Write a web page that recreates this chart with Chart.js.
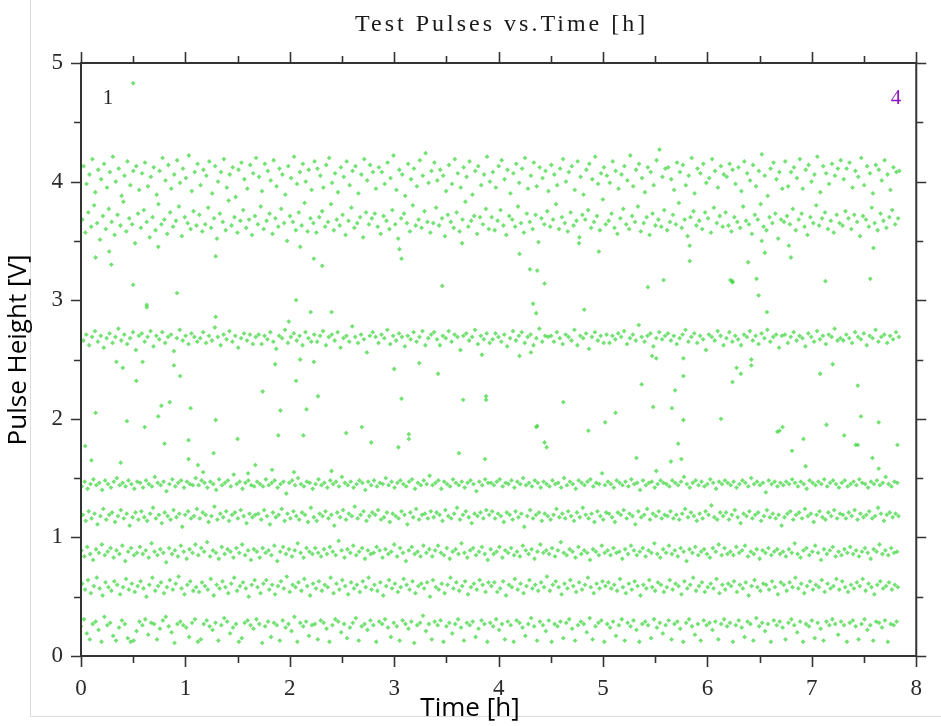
<!DOCTYPE html>
<html>
<head>
<meta charset="utf-8">
<title>Test Pulses vs.Time [h]</title>
<script src="https://cdn.jsdelivr.net/npm/chart.js@4/dist/chart.umd.min.js"></script>
<style>
  html, body { margin: 0; padding: 0; background: #ffffff; }
  #wrap { width: 941px; height: 726px; }
</style>
</head>
<body>
<div id="wrap"><canvas id="c" width="941" height="726"></canvas></div>
<script>
// Test-pulse readout: one reading per amplitude step every SAMPLE_STEP_H hours.
const SAMPLE_STEP_H = 0.028;
// Time of the first reading of each amplitude step [h] (steps are interleaved).
const firstReadingH = [0.000, 0.011, 0.004, 0.018, 0.007, 0.022, 0.014, 0.025];

// Pulse heights [V] per amplitude step, in time order.
const step025 = [
  0.25,0.31,0.19,0.14,0.27,0.29,0.22,0.12,0.33,0.26,0.28,0.17,0.13,0.24,0.30,0.27,0.15,0.12,0.13,0.21,
  0.29,0.26,0.31,0.18,0.28,0.27,0.14,0.23,0.30,0.33,0.25,0.20,0.11,0.27,0.29,0.26,0.24,0.16,0.28,0.31,
  0.12,0.14,0.27,0.30,0.25,0.22,0.28,0.13,0.26,0.32,0.29,0.19,0.24,0.27,0.12,0.15,0.28,0.30,0.26,0.23,
  0.31,0.27,0.11,0.25,0.29,0.16,0.28,0.26,0.13,0.30,0.24,0.27,0.21,0.33,0.12,0.28,0.25,0.29,0.17,0.26,
  0.27,0.14,0.30,0.28,0.23,0.12,0.26,0.31,0.29,0.20,0.27,0.15,0.24,0.28,0.32,0.13,0.25,0.27,0.22,0.30,
  0.26,0.12,0.29,0.27,0.31,0.24,0.16,0.28,0.25,0.13,0.30,0.27,0.23,0.29,0.11,0.26,0.28,0.34,0.21,0.27,
  0.14,0.29,0.26,0.30,0.12,0.25,0.28,0.19,0.27,0.31,0.24,0.13,0.28,0.26,0.29,0.16,0.23,0.30,0.27,0.12,
  0.28,0.25,0.31,0.22,0.27,0.14,0.29,0.26,0.12,0.30,0.28,0.24,0.17,0.27,0.32,0.25,0.13,0.29,0.26,0.21,
  0.30,0.12,0.27,0.25,0.29,0.15,0.28,0.31,0.23,0.13,0.26,0.29,0.27,0.20,0.32,0.14,0.25,0.28,0.30,0.12,
  0.27,0.24,0.29,0.17,0.26,0.31,0.13,0.28,0.25,0.30,0.22,0.12,0.27,0.29,0.26,0.15,0.31,0.24,0.28,0.19,
  0.26,0.30,0.14,0.27,0.29,0.23,0.12,0.28,0.31,0.25,0.18,0.27,0.13,0.30,0.26,0.28,0.22,0.29,0.14,0.27,
  0.31,0.25,0.28,0.12,0.26,0.30,0.24,0.16,0.29,0.27,0.13,0.32,0.25,0.28,0.21,0.27,0.12,0.30,0.26,0.29,
  0.24,0.14,0.28,0.31,0.26,0.20,0.29,0.12,0.27,0.25,0.30,0.15,0.28,0.23,0.13,0.29,0.26,0.31,0.27,0.18,
  0.29,0.26,0.12,0.28,0.30,0.25,0.14,0.27,0.31,0.22,0.26,0.13,0.29,0.28,0.24,0.30,0.12,0.27,0.26,0.29
];
const step058 = [
  0.61,0.56,0.64,0.53,0.59,0.66,0.57,0.51,0.62,0.58,0.55,0.63,0.60,0.52,0.58,0.65,0.56,0.61,0.54,0.59,
  0.63,0.57,0.50,0.60,0.66,0.55,0.59,0.62,0.53,0.58,0.64,0.56,0.61,0.67,0.57,0.52,0.60,0.63,0.55,0.58,
  0.54,0.62,0.59,0.56,0.65,0.51,0.60,0.57,0.63,0.58,0.53,0.61,0.66,0.55,0.59,0.62,0.57,0.50,0.60,0.64,
  0.58,0.53,0.61,0.64,0.56,0.60,0.52,0.59,0.63,0.57,0.67,0.54,0.60,0.58,0.62,0.55,0.65,0.59,0.51,0.61,
  0.57,0.63,0.55,0.60,0.58,0.66,0.53,0.61,0.56,0.64,0.59,0.52,0.62,0.57,0.60,0.54,0.63,0.58,0.66,0.56,
  0.60,0.55,0.62,0.51,0.59,0.64,0.57,0.61,0.54,0.58,0.65,0.60,0.56,0.63,0.53,0.59,0.61,0.57,0.62,0.50,
  0.64,0.58,0.56,0.61,0.53,0.60,0.66,0.57,0.62,0.55,0.59,0.63,0.52,0.58,0.61,0.56,0.64,0.60,0.54,0.62,
  0.59,0.62,0.54,0.57,0.63,0.51,0.60,0.58,0.65,0.56,0.61,0.53,0.59,0.64,0.57,0.60,0.55,0.62,0.58,0.67,
  0.55,0.60,0.63,0.58,0.52,0.61,0.57,0.64,0.59,0.54,0.62,0.56,0.60,0.66,0.58,0.53,0.61,0.57,0.63,0.59,
  0.62,0.57,0.60,0.55,0.65,0.58,0.53,0.61,0.56,0.63,0.59,0.51,0.60,0.57,0.64,0.58,0.55,0.62,0.60,0.54,
  0.58,0.64,0.56,0.61,0.59,0.52,0.63,0.57,0.60,0.66,0.55,0.59,0.62,0.54,0.58,0.61,0.57,0.65,0.53,0.60,
  0.56,0.61,0.59,0.63,0.54,0.60,0.57,0.62,0.51,0.59,0.64,0.58,0.55,0.61,0.60,0.56,0.63,0.58,0.52,0.62,
  0.60,0.55,0.62,0.58,0.66,0.57,0.61,0.53,0.59,0.63,0.56,0.60,0.58,0.64,0.54,0.61,0.57,0.59,0.65,0.56,
  0.63,0.58,0.54,0.60,0.57,0.62,0.59,0.65,0.55,0.61,0.58,0.52,0.60,0.63,0.57,0.59,0.62,0.56,0.60,0.58
];
const step088 = [
  0.89,0.84,0.92,0.86,0.81,0.90,0.87,0.94,0.85,0.88,0.91,0.83,0.89,0.86,0.93,0.80,0.88,0.91,0.85,0.87,
  0.92,0.86,0.89,0.83,0.95,0.88,0.85,0.90,0.87,0.79,0.91,0.86,0.89,0.84,0.93,0.88,0.82,0.90,0.87,0.94,
  0.85,0.91,0.88,0.96,0.84,0.89,0.87,0.82,0.92,0.86,0.90,0.88,0.83,0.91,0.87,0.94,0.85,0.89,0.81,0.90,
  0.88,0.83,0.91,0.87,0.89,0.85,0.93,0.80,0.88,0.92,0.86,0.90,0.84,0.89,0.95,0.87,0.83,0.91,0.88,0.86,
  0.91,0.87,0.84,0.90,0.86,0.92,0.88,0.85,0.97,0.89,0.83,0.90,0.87,0.93,0.85,0.88,0.91,0.82,0.89,0.86,
  0.87,0.92,0.89,0.83,0.90,0.86,0.88,0.94,0.84,0.91,0.87,0.80,0.89,0.92,0.86,0.88,0.84,0.93,0.87,0.90,
  0.84,0.89,0.93,0.87,0.85,0.91,0.82,0.88,0.90,0.86,0.95,0.87,0.83,0.89,0.91,0.85,0.88,0.92,0.86,0.81,
  0.90,0.86,0.88,0.92,0.83,0.89,0.87,0.91,0.85,0.88,0.84,0.93,0.89,0.86,0.90,0.82,0.88,0.94,0.87,0.89,
  0.86,0.91,0.84,0.89,0.96,0.87,0.85,0.90,0.88,0.83,0.92,0.86,0.89,0.87,0.81,0.90,0.88,0.85,0.93,0.87,
  0.89,0.85,0.91,0.87,0.88,0.82,0.90,0.86,0.93,0.89,0.85,0.88,0.91,0.84,0.89,0.87,0.95,0.86,0.83,0.90,
  0.87,0.93,0.86,0.89,0.84,0.91,0.88,0.80,0.90,0.87,0.92,0.85,0.88,0.90,0.86,0.83,0.91,0.88,0.94,0.85,
  0.91,0.86,0.88,0.85,0.92,0.87,0.89,0.93,0.84,0.88,0.86,0.90,0.82,0.89,0.87,0.91,0.85,0.88,0.90,0.86,
  0.88,0.84,0.90,0.87,0.95,0.86,0.83,0.89,0.91,0.85,0.88,0.93,0.87,0.81,0.90,0.86,0.89,0.92,0.84,0.88,
  0.85,0.90,0.87,0.92,0.86,0.89,0.84,0.88,0.91,0.87,0.82,0.90,0.88,0.94,0.86,0.89,0.85,0.91,0.87,0.88
];
const step118 = [
  1.19,1.14,1.22,1.16,1.20,1.11,1.18,1.24,1.15,1.19,1.21,1.13,1.18,1.23,1.16,1.20,1.10,1.17,1.21,1.15,
  1.22,1.17,1.14,1.20,1.25,1.16,1.19,1.12,1.21,1.18,1.15,1.23,1.17,1.20,1.09,1.19,1.22,1.16,1.18,1.24,
  1.16,1.21,1.19,1.13,1.18,1.26,1.15,1.20,1.17,1.22,1.14,1.19,1.21,1.16,1.23,1.18,1.12,1.20,1.17,1.19,
  1.20,1.15,1.23,1.18,1.11,1.21,1.17,1.19,1.24,1.14,1.20,1.16,1.22,1.18,1.15,1.21,1.19,1.13,1.25,1.17,
  1.14,1.20,1.18,1.22,1.16,1.19,1.10,1.21,1.17,1.23,1.15,1.20,1.18,1.26,1.16,1.19,1.22,1.14,1.18,1.21,
  1.19,1.23,1.15,1.17,1.21,1.13,1.20,1.18,1.16,1.22,1.19,1.11,1.21,1.17,1.24,1.15,1.19,1.20,1.16,1.22,
  1.17,1.21,1.19,1.14,1.23,1.18,1.16,1.20,1.25,1.15,1.19,1.22,1.17,1.12,1.20,1.18,1.21,1.16,1.23,1.19,
  1.22,1.16,1.20,1.18,1.13,1.21,1.19,1.15,1.22,1.17,1.20,1.09,1.18,1.23,1.16,1.19,1.21,1.14,1.20,1.18,
  1.15,1.19,1.24,1.17,1.20,1.16,1.22,1.18,1.14,1.21,1.17,1.25,1.19,1.16,1.20,1.13,1.22,1.18,1.15,1.21,
  1.20,1.17,1.13,1.21,1.19,1.23,1.16,1.20,1.18,1.11,1.22,1.17,1.19,1.24,1.15,1.20,1.18,1.22,1.16,1.19,
  1.18,1.22,1.16,1.19,1.15,1.20,1.24,1.17,1.21,1.18,1.14,1.20,1.16,1.22,1.19,1.27,1.17,1.15,1.21,1.18,
  1.21,1.15,1.19,1.23,1.17,1.12,1.20,1.18,1.22,1.16,1.19,1.21,1.14,1.18,1.23,1.17,1.20,1.16,1.19,1.10,
  1.17,1.20,1.22,1.15,1.19,1.21,1.16,1.24,1.18,1.20,1.13,1.19,1.22,1.17,1.15,1.21,1.18,1.23,1.16,1.20,
  1.19,1.16,1.21,1.18,1.23,1.15,1.20,1.17,1.19,1.22,1.16,1.18,1.25,1.20,1.14,1.19,1.21,1.17,1.20,1.18
];
const step145 = [
  1.43,1.47,1.41,1.45,1.49,1.44,1.46,1.40,1.48,1.45,1.42,1.47,1.50,1.44,1.46,1.43,1.48,1.45,1.41,1.47,
  1.46,1.42,1.48,1.45,1.43,1.51,1.46,1.44,1.47,1.39,1.45,1.49,1.43,1.46,1.48,1.42,1.47,1.45,1.44,1.50,
  1.44,1.48,1.46,1.42,1.47,1.45,1.40,1.49,1.44,1.46,1.48,1.43,1.53,1.45,1.47,1.41,1.46,1.48,1.44,1.43,
  1.47,1.45,1.43,1.49,1.44,1.46,1.48,1.42,1.45,1.47,1.37,1.46,1.48,1.44,1.50,1.45,1.43,1.47,1.46,1.41,
  1.45,1.49,1.44,1.46,1.42,1.48,1.45,1.47,1.43,1.51,1.46,1.44,1.47,1.42,1.45,1.48,1.46,1.40,1.47,1.44,
  1.48,1.43,1.46,1.45,1.50,1.44,1.47,1.42,1.46,1.48,1.45,1.43,1.47,1.49,1.41,1.46,1.44,1.48,1.45,1.52,
  1.44,1.46,1.48,1.41,1.47,1.45,1.43,1.49,1.46,1.44,1.47,1.42,1.46,1.48,1.45,1.39,1.47,1.44,1.49,1.46,
  1.46,1.44,1.47,1.49,1.43,1.46,1.45,1.48,1.42,1.47,1.45,1.50,1.44,1.46,1.43,1.48,1.46,1.42,1.47,1.45,
  1.43,1.48,1.45,1.46,1.42,1.50,1.44,1.47,1.45,1.41,1.48,1.46,1.44,1.47,1.49,1.43,1.46,1.45,1.54,1.44,
  1.47,1.45,1.42,1.48,1.46,1.44,1.47,1.43,1.49,1.45,1.46,1.40,1.48,1.44,1.46,1.47,1.42,1.45,1.48,1.46,
  1.45,1.43,1.48,1.46,1.44,1.47,1.51,1.45,1.42,1.46,1.48,1.44,1.47,1.43,1.45,1.49,1.46,1.41,1.47,1.45,
  1.48,1.46,1.44,1.47,1.42,1.45,1.48,1.46,1.43,1.50,1.45,1.47,1.44,1.46,1.38,1.48,1.45,1.47,1.43,1.46,
  1.44,1.47,1.45,1.49,1.46,1.43,1.47,1.45,1.41,1.48,1.46,1.44,1.47,1.45,1.49,1.43,1.46,1.48,1.45,1.42,
  1.46,1.48,1.43,1.45,1.47,1.44,1.49,1.46,1.45,1.42,1.47,1.45,1.48,1.44,1.46,1.51,1.45,1.43,1.47,1.46
];
const step268 = [
  2.66,2.71,2.62,2.69,2.74,2.65,2.70,2.60,2.68,2.72,2.64,2.69,2.76,2.66,2.71,2.63,2.68,2.73,2.58,2.70,
  2.72,2.65,2.69,2.74,2.61,2.70,2.67,2.73,2.64,2.69,2.71,2.57,2.68,2.75,2.66,2.70,2.63,2.72,2.69,2.65,
  2.68,2.73,2.64,2.70,2.66,2.77,2.69,2.62,2.71,2.67,2.74,2.65,2.70,2.60,2.68,2.72,2.66,2.71,2.63,2.69,
  2.71,2.63,2.70,2.67,2.73,2.65,2.59,2.70,2.68,2.75,2.64,2.69,2.72,2.66,2.70,2.62,2.73,2.68,2.65,2.71,
  2.65,2.70,2.74,2.62,2.69,2.71,2.66,2.73,2.60,2.68,2.70,2.65,2.78,2.69,2.64,2.71,2.67,2.56,2.70,2.73,
  2.69,2.64,2.71,2.68,2.75,2.63,2.70,2.66,2.72,2.69,2.61,2.70,2.67,2.73,2.65,2.69,2.74,2.62,2.68,2.71,
  2.73,2.67,2.62,2.70,2.68,2.74,2.65,2.71,2.69,2.58,2.70,2.72,2.66,2.69,2.75,2.63,2.70,2.67,2.72,2.64,
  2.67,2.72,2.69,2.65,2.71,2.61,2.68,2.74,2.66,2.70,2.73,2.64,2.69,2.71,2.62,2.68,2.76,2.65,2.70,2.69,
  2.70,2.65,2.73,2.68,2.63,2.71,2.69,2.66,2.75,2.62,2.70,2.68,2.72,2.59,2.69,2.73,2.66,2.70,2.64,2.71,
  2.64,2.70,2.67,2.72,2.69,2.74,2.63,2.68,2.71,2.66,2.79,2.69,2.65,2.70,2.72,2.61,2.68,2.73,2.67,2.70,
  2.72,2.66,2.70,2.63,2.68,2.71,2.75,2.65,2.69,2.72,2.64,2.70,2.67,2.58,2.71,2.69,2.66,2.74,2.70,2.62,
  2.68,2.73,2.65,2.70,2.67,2.62,2.71,2.69,2.74,2.66,2.70,2.63,2.72,2.68,2.75,2.65,2.69,2.71,2.60,2.70,
  2.71,2.64,2.69,2.73,2.66,2.70,2.68,2.61,2.72,2.69,2.65,2.74,2.67,2.70,2.63,2.71,2.69,2.76,2.66,2.68,
  2.66,2.71,2.68,2.64,2.73,2.69,2.67,2.72,2.62,2.70,2.68,2.75,2.65,2.69,2.71,2.64,2.70,2.67,2.73,2.69
];
const step365 = [
  3.68,3.57,3.74,3.62,3.80,3.65,3.51,3.71,3.60,3.77,3.66,3.55,3.72,3.63,3.83,3.58,3.69,3.64,3.48,3.73,
  3.61,3.76,3.66,3.53,3.70,3.59,3.81,3.64,3.68,3.56,3.74,3.62,3.67,3.79,3.54,3.70,3.65,3.60,3.75,3.63,
  3.72,3.58,3.64,3.78,3.61,3.69,3.52,3.73,3.66,3.59,3.84,3.63,3.70,3.57,3.67,3.76,3.61,3.68,3.55,3.71,
  3.64,3.79,3.60,3.67,3.73,3.56,3.69,3.62,3.77,3.65,3.50,3.71,3.66,3.59,3.74,3.63,3.82,3.58,3.69,3.65,
  3.57,3.70,3.75,3.62,3.66,3.81,3.59,3.68,3.63,3.72,3.55,3.67,3.78,3.61,3.65,3.70,3.53,3.74,3.64,3.69,
  3.73,3.62,3.56,3.71,3.67,3.60,3.76,3.64,3.52,3.69,3.73,3.65,3.58,3.80,3.63,3.68,3.61,3.75,3.66,3.57,
  3.65,3.78,3.63,3.69,3.54,3.72,3.66,3.61,3.74,3.58,3.68,3.83,3.62,3.67,3.71,3.56,3.70,3.64,3.77,3.60,
  3.70,3.59,3.67,3.76,3.63,3.55,3.71,3.68,3.62,3.79,3.65,3.57,3.73,3.66,3.60,3.72,3.49,3.69,3.64,3.75,
  3.62,3.68,3.81,3.60,3.70,3.65,3.58,3.74,3.63,3.67,3.53,3.72,3.68,3.76,3.61,3.66,3.71,3.59,3.85,3.64,
  3.67,3.73,3.61,3.56,3.69,3.77,3.64,3.60,3.71,3.66,3.79,3.58,3.65,3.70,3.55,3.73,3.63,3.68,3.62,3.76,
  3.59,3.66,3.72,3.64,3.82,3.61,3.68,3.54,3.70,3.75,3.63,3.67,3.60,3.74,3.69,3.57,3.78,3.65,3.71,3.62,
  3.74,3.63,3.58,3.70,3.66,3.61,3.79,3.67,3.64,3.56,3.72,3.68,3.81,3.62,3.59,3.70,3.65,3.73,3.52,3.68,
  3.66,3.71,3.64,3.77,3.59,3.68,3.73,3.62,3.55,3.70,3.65,3.80,3.63,3.69,3.74,3.60,3.67,3.57,3.72,3.65,
  3.63,3.75,3.69,3.60,3.72,3.66,3.54,3.71,3.68,3.62,3.78,3.65,3.59,3.73,3.67,3.61,3.70,3.76,3.64,3.69
];
const step405 = [
  4.13,3.98,4.06,4.19,3.91,4.10,4.02,4.15,3.95,4.08,4.21,4.00,4.11,3.88,4.05,4.17,3.97,4.09,4.13,3.93,
  4.07,4.16,3.96,4.04,4.12,3.89,4.09,4.20,4.01,4.14,3.94,4.06,4.18,3.99,4.11,4.03,4.22,3.92,4.08,4.15,
  3.97,4.10,4.05,4.17,3.90,4.13,4.00,4.08,4.19,3.95,4.06,4.12,3.87,4.10,4.16,4.02,3.94,4.14,4.07,4.20,
  4.04,3.92,4.15,4.09,4.01,4.18,3.96,4.11,4.06,3.89,4.13,4.03,4.21,3.98,4.08,4.15,4.00,4.10,3.93,4.17,
  4.11,4.05,3.95,4.14,4.20,3.99,4.07,3.91,4.12,4.04,4.17,3.97,4.09,4.13,3.90,4.06,4.19,4.01,4.14,4.08,
  3.94,4.12,4.08,3.98,4.16,4.03,4.22,3.93,4.10,4.06,3.88,4.15,4.02,4.11,3.96,4.18,4.05,4.24,3.99,4.09,
  4.16,4.01,4.10,4.05,3.92,4.14,3.98,4.19,4.07,3.95,4.12,4.04,4.17,3.89,4.09,4.13,3.97,4.06,4.21,4.00,
  4.08,3.95,4.13,4.18,4.02,4.10,3.90,4.07,4.15,3.99,4.11,4.20,3.94,4.05,4.16,3.96,4.12,4.03,4.09,3.92,
  4.14,4.06,3.97,4.11,4.19,4.00,4.08,4.13,3.93,4.17,4.04,3.89,4.10,4.15,4.02,4.21,3.98,4.07,4.12,4.05,
  3.99,4.17,4.09,3.94,4.06,4.13,4.01,4.22,3.96,4.10,4.15,4.03,3.91,4.12,4.08,3.97,4.18,4.27,4.04,4.11,
  4.12,4.02,3.93,4.16,4.08,4.14,3.97,4.05,4.20,3.90,4.11,4.07,4.15,3.99,4.03,4.19,4.09,3.95,4.13,4.06,
  4.04,4.15,4.10,3.98,4.12,3.92,4.17,4.07,4.01,4.14,3.96,4.09,4.23,4.05,3.88,4.11,4.16,4.02,4.08,3.94,
  4.17,3.96,4.08,4.12,4.03,4.19,3.94,4.10,4.14,4.00,4.06,4.21,3.91,4.13,4.07,3.98,4.15,4.05,4.11,4.18,
  4.02,4.11,4.16,3.95,4.09,4.04,4.20,3.97,4.13,4.07,3.90,4.14,4.10,4.01,4.18,4.06,3.93,4.12,4.08,4.09
];

// Stray readings that fell between the amplitude steps: time [h] and height [V].
const strayTimes = [
  0.50,
  0.14,0.27,0.29,0.74,1.29,2.10,2.23,2.31,3.05,3.07,3.65,4.20,4.30,4.37,4.77,4.96,5.58,5.83,5.83,
  6.22,6.24,6.39,6.47,6.52,6.55,6.78,6.80,7.56,7.59,
  0.50,0.92,0.63,0.63,2.06,3.46,4.44,5.43,6.24,7.13,2.20,2.40,1.29,1.99,4.33,4.36,4.82,6.49,6.57,
  0.34,0.40,0.59,0.53,0.89,0.95,1.86,2.06,2.10,2.23,3.00,3.24,3.42,3.84,4.20,4.31,5.47,5.51,5.77,
  5.77,6.28,6.32,6.24,6.42,6.42,7.08,7.20,7.44,
  3.88,3.88,1.74,2.27,3.07,3.66,5.37,5.69,4.62,5.48,5.66,5.12,5.77,6.13,7.47,5.02,4.86,4.36,4.37,
  6.67,6.69,6.72,7.14,7.64,
  0.14,0.77,0.85,0.74,0.44,1.05,1.29,1.91,2.16,0.61,2.69,2.54,1.89,2.13,1.50,3.14,3.14,1.03,2.78,
  0.80,3.04,1.27,3.62,0.04,0.10,1.03,3.87,
  4.44,4.46,5.72,7.31,6.92,7.42,7.44,7.82,6.81,5.32,7.58,5.65,5.75,7.64,5.51,6.94,
  0.38,1.12,1.67,1.83,2.04,2.40,1.17,1.60
];
const strayVolts = [
  4.83,
  3.36,3.41,3.30,3.45,3.37,3.45,3.35,3.29,3.43,3.35,3.48,3.39,3.26,3.25,3.48,3.41,3.17,3.33,3.46,
  3.17,3.15,3.32,3.18,3.50,3.40,3.46,3.36,3.18,3.44,
  3.13,3.06,2.96,2.94,3.00,3.12,3.14,3.11,3.16,3.16,2.90,2.90,2.86,2.82,2.97,2.89,2.92,3.04,2.90,
  2.48,2.43,2.48,2.32,2.45,2.36,2.46,2.32,2.50,2.48,2.42,2.47,2.38,2.54,2.53,2.56,2.53,2.51,2.51,
  2.36,2.43,2.38,2.31,2.50,2.45,2.38,2.46,2.28,
  2.19,2.16,2.23,2.19,2.17,2.16,2.29,2.24,2.14,2.10,2.09,2.05,1.99,2.00,2.02,1.97,1.90,1.93,1.94,
  1.89,1.90,1.93,1.95,1.97,
  2.05,2.11,2.14,2.02,1.98,2.09,1.99,2.07,2.08,1.93,1.93,1.88,1.86,1.86,1.83,1.87,1.83,1.82,1.80,
  1.79,1.76,1.71,1.71,1.77,1.65,1.66,1.66,
  1.80,1.76,1.79,1.86,1.83,1.78,1.78,1.78,1.73,1.67,1.67,1.64,1.66,1.58,1.56,1.60,
  1.63,1.61,1.61,1.57,1.55,1.56,1.55,1.54
];

const timeTicks = [0, 1, 2, 3, 4, 5, 6, 7, 8];
const voltTicks = [0, 1, 2, 3, 4, 5];

const POINT_FILL = 'rgba(56, 212, 56, 0.7)';
const AXIS_INK = '#333333';

function stepSeries(values, t0) {
  return values.map((v, i) => ({ x: t0 + i * SAMPLE_STEP_H, y: v }));
}
function pointSet(data) {
  return {
    data,
    pointStyle: 'rectRot',
    pointRadius: 2.4,
    pointBackgroundColor: POINT_FILL,
    pointBorderWidth: 0,
    showLine: false
  };
}

const steps = [step025, step058, step088, step118, step145, step268, step365, step405];
const datasets = steps.map((v, k) => pointSet(stepSeries(v, firstReadingH[k])));
datasets.push(pointSet(strayTimes.map((t, i) => ({ x: t, y: strayVolts[i] }))));

// Frame, tick marks, titles and the run markers.
const decorations = {
  id: 'decorations',
  beforeDraw(chart) {
    const ctx = chart.ctx;
    ctx.save();
    ctx.fillStyle = '#ffffff';
    ctx.fillRect(0, 0, chart.width, chart.height);
    ctx.strokeStyle = '#dcdcdc';
    ctx.lineWidth = 1;
    ctx.beginPath();
    ctx.moveTo(30.5, 0); ctx.lineTo(30.5, 716);
    ctx.moveTo(30, 716.5); ctx.lineTo(941, 716.5);
    ctx.stroke();
    ctx.restore();
  },
  afterDraw(chart) {
    const ctx = chart.ctx;
    const a = chart.chartArea;
    const xs = chart.scales.x, ys = chart.scales.y;
    ctx.save();
    ctx.strokeStyle = AXIS_INK;
    ctx.lineWidth = 2;
    ctx.strokeRect(a.left, a.top, a.right - a.left, a.bottom - a.top);

    ctx.lineWidth = 1.6;
    ctx.beginPath();
    for (let t = 0; t <= 8.0001; t += 0.5) {
      const px = Math.round(xs.getPixelForValue(t)) + 0.5;
      const len = Number.isInteger(t) ? 11 : 7;
      ctx.moveTo(px, a.bottom); ctx.lineTo(px, a.bottom + len);
      ctx.moveTo(px, a.top); ctx.lineTo(px, a.top - len);
    }
    for (let v = 0; v <= 5.0001; v += 0.5) {
      const py = Math.round(ys.getPixelForValue(v)) + 0.5;
      const len = Number.isInteger(v) ? 10 : 7;
      ctx.moveTo(a.left, py); ctx.lineTo(a.left - len, py);
      ctx.moveTo(a.right, py); ctx.lineTo(a.right + len, py);
    }
    ctx.stroke();

    ctx.fillStyle = '#1a1a1a';
    ctx.textAlign = 'center';
    ctx.textBaseline = 'middle';
    ctx.font = '24px "Liberation Serif"';
    if ('letterSpacing' in ctx) ctx.letterSpacing = '3px';
    ctx.fillText('Test Pulses vs.Time [h]', (a.left + a.right) / 2 + 3, 25);
    if ('letterSpacing' in ctx) ctx.letterSpacing = '0px';

    ctx.font = '21px "Liberation Serif"';
    ctx.fillStyle = '#222222';
    ctx.fillText('1', 108, 98);
    ctx.fillStyle = '#8a17c0';
    ctx.fillText('4', 896, 98);

    ctx.fillStyle = '#000000';
    ctx.font = '26px "Open Sans"';
    ctx.fillText('Time [h]', 470, 709);
    ctx.translate(19, 350);
    ctx.rotate(-Math.PI / 2);
    ctx.fillText('Pulse Height [V]', 0, 0);
    ctx.restore();
  }
};

new Chart(document.getElementById('c'), {
  type: 'scatter',
  data: { datasets },
  plugins: [decorations],
  options: {
    responsive: false,
    animation: false,
    devicePixelRatio: 1,
    layout: { padding: { top: 63, right: 18, left: 0, bottom: 0 } },
    plugins: { legend: { display: false }, tooltip: { enabled: false }, title: { display: false } },
    scales: {
      x: {
        type: 'linear', position: 'bottom', min: 0, max: 8,
        grid: { display: false, drawTicks: false },
        border: { display: false },
        afterBuildTicks: s => { s.ticks = timeTicks.map(v => ({ value: v })); },
        afterFit: s => { s.height = 70; },
        ticks: {
          padding: 19, maxRotation: 0, color: '#2a2a2a',
          font: { family: 'Liberation Serif', size: 23 }
        }
      },
      y: {
        type: 'linear', position: 'left', min: 0, max: 5,
        grid: { display: false, drawTicks: false },
        border: { display: false },
        afterBuildTicks: s => { s.ticks = voltTicks.map(v => ({ value: v })); },
        afterFit: s => { s.width = 81; },
        ticks: {
          padding: 18, color: '#2a2a2a',
          font: { family: 'Liberation Serif', size: 23 }
        }
      }
    }
  }
});
</script>
</body>
</html>
